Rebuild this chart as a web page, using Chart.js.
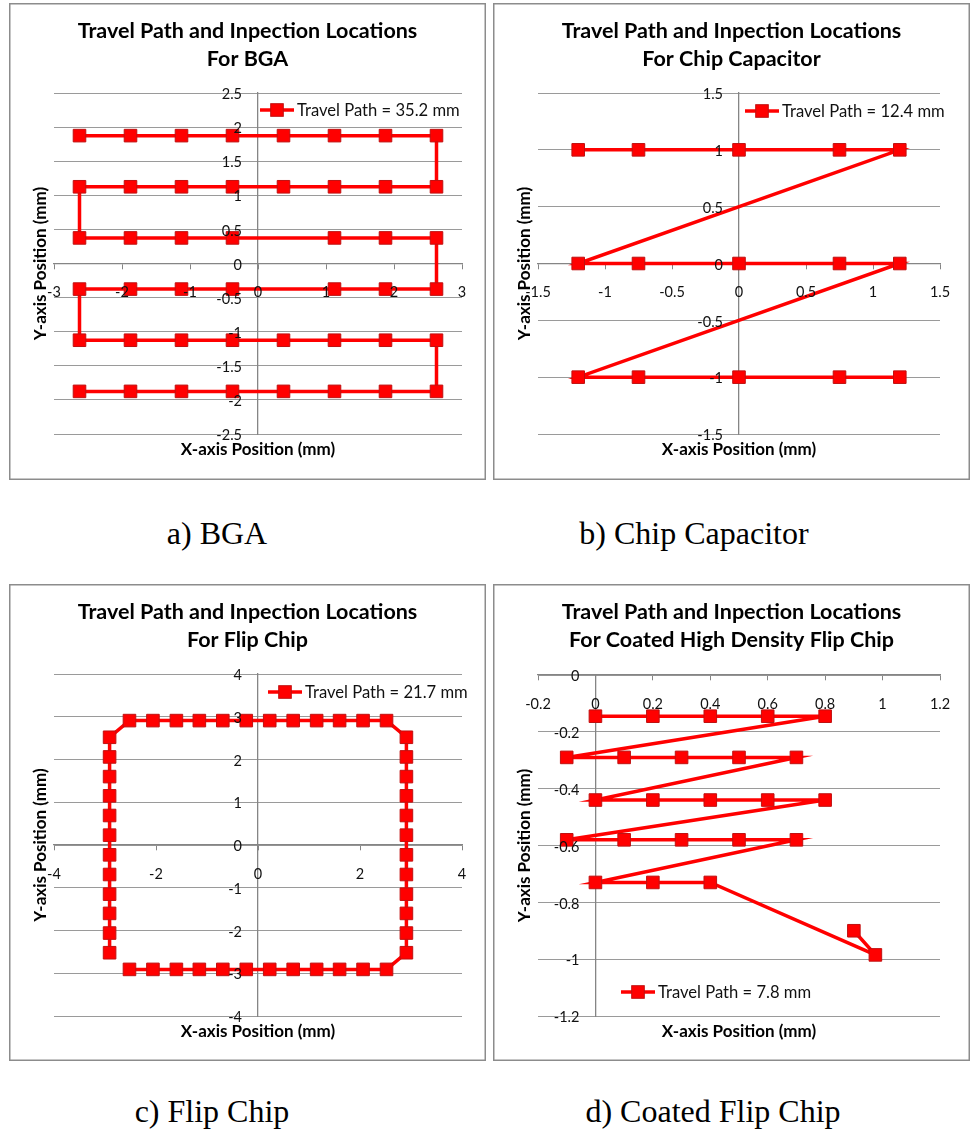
<!DOCTYPE html>
<html>
<head>
<meta charset="utf-8">
<script src="https://cdn.jsdelivr.net/npm/chart.js@4.4.1/dist/chart.umd.min.js"></script>
<style>
  html, body { margin: 0; padding: 0; background: #fff; }
  body { position: relative; width: 970px; height: 1134px; overflow: hidden; }
  canvas.panel { position: absolute; }
  .cap { position: absolute; width: 400px; text-align: center; font: 32px "Liberation Serif", "Times New Roman", serif; line-height: 32px; color: #000; white-space: nowrap; }
</style>
</head>
<body>
<canvas class="panel" id="bga" width="477" height="477" style="left:9px;top:3px"></canvas>
<canvas class="panel" id="cap" width="477" height="477" style="left:493px;top:3px"></canvas>
<canvas class="panel" id="flip" width="477" height="477" style="left:9px;top:584px"></canvas>
<canvas class="panel" id="hdflip" width="477" height="477" style="left:493px;top:584px"></canvas>
<div class="cap" style="left:17px;top:517px">a) BGA</div>
<div class="cap" style="left:494px;top:517px">b) Chip Capacitor</div>
<div class="cap" style="left:12px;top:1095px">c) Flip Chip</div>
<div class="cap" style="left:513px;top:1095px">d) Coated Flip Chip</div>
<script>
// ---------- BGA: serpentine over a 8 x 6 ball grid ----------
const bgaTitle = ['Travel Path and Inpection Locations', 'For BGA'];
const bgaLabel = 'Travel Path = 35.2 mm';
const bgaX = [
  -2.625, -1.875, -1.125, -0.375, 0.375, 1.125, 1.875, 2.625,
  2.625, 1.875, 1.125, 0.375, -0.375, -1.125, -1.875, -2.625,
  -2.625, -1.875, -1.125, -0.375, 1.125, 1.875, 2.625,
  2.625, 1.875, 1.125, -0.375, -1.125, -1.875, -2.625,
  -2.625, -1.875, -1.125, -0.375, 0.375, 1.125, 1.875, 2.625,
  2.625, 1.875, 1.125, 0.375, -0.375, -1.125, -1.875, -2.625
];
const bgaY = [
  1.875, 1.875, 1.875, 1.875, 1.875, 1.875, 1.875, 1.875,
  1.125, 1.125, 1.125, 1.125, 1.125, 1.125, 1.125, 1.125,
  0.375, 0.375, 0.375, 0.375, 0.375, 0.375, 0.375,
  -0.375, -0.375, -0.375, -0.375, -0.375, -0.375, -0.375,
  -1.125, -1.125, -1.125, -1.125, -1.125, -1.125, -1.125, -1.125,
  -1.875, -1.875, -1.875, -1.875, -1.875, -1.875, -1.875, -1.875
];
const bgaXTicks = [-3, -2, -1, 0, 1, 2, 3];
const bgaYTicks = [-2.5, -2, -1.5, -1, -0.5, 0, 0.5, 1, 1.5, 2, 2.5];

// ---------- Chip capacitor: three rows, diagonal returns ----------
const capTitle = ['Travel Path and Inpection Locations', 'For Chip Capacitor'];
const capLabel = 'Travel Path = 12.4 mm';
const capX = [-1.2, -0.75, 0, 0.75, 1.2, -1.2, -0.75, 0, 0.75, 1.2, -1.2, -0.75, 0, 0.75, 1.2];
const capY = [1, 1, 1, 1, 1, 0, 0, 0, 0, 0, -1, -1, -1, -1, -1];
const capXTicks = [-1.5, -1, -0.5, 0, 0.5, 1, 1.5];
const capYTicks = [-1.5, -1, -0.5, 0, 0.5, 1, 1.5];

// ---------- Flip chip: perimeter bumps ----------
const flipTitle = ['Travel Path and Inpection Locations', 'For Flip Chip'];
const flipLabel = 'Travel Path = 21.7 mm';
const flipX = [
  -2.52, -2.06, -1.6, -1.15, -0.69, -0.23, 0.23, 0.69, 1.15, 1.6, 2.06, 2.52,
  2.91, 2.91, 2.91, 2.91, 2.91, 2.91, 2.91, 2.91, 2.91, 2.91, 2.91, 2.91,
  2.52, 2.06, 1.6, 1.15, 0.69, 0.23, -0.23, -0.69, -1.15, -1.6, -2.06, -2.52,
  -2.91, -2.91, -2.91, -2.91, -2.91, -2.91, -2.91, -2.91, -2.91, -2.91, -2.91, -2.91
];
const flipY = [
  -2.91, -2.91, -2.91, -2.91, -2.91, -2.91, -2.91, -2.91, -2.91, -2.91, -2.91, -2.91,
  -2.52, -2.06, -1.6, -1.15, -0.69, -0.23, 0.23, 0.69, 1.15, 1.6, 2.06, 2.52,
  2.91, 2.91, 2.91, 2.91, 2.91, 2.91, 2.91, 2.91, 2.91, 2.91, 2.91, 2.91,
  2.52, 2.06, 1.6, 1.15, 0.69, 0.23, -0.23, -0.69, -1.15, -1.6, -2.06, -2.52
];
const flipXTicks = [-4, -2, 0, 2, 4];
const flipYTicks = [-4, -3, -2, -1, 0, 1, 2, 3, 4];

// ---------- Coated high density flip chip ----------
const hdTitle = ['Travel Path and Inpection Locations', 'For Coated High Density Flip Chip'];
const hdLabel = 'Travel Path = 7.8 mm';
const hdX = [
  0, 0.2, 0.4, 0.6, 0.8,
  -0.1, 0.1, 0.3, 0.5, 0.7,
  0, 0.2, 0.4, 0.6, 0.8,
  -0.1, 0.1, 0.3, 0.5, 0.7,
  0, 0.2, 0.4,
  0.975, 0.9
];
const hdY = [
  -0.145, -0.145, -0.145, -0.145, -0.145,
  -0.29, -0.29, -0.29, -0.29, -0.29,
  -0.44, -0.44, -0.44, -0.44, -0.44,
  -0.58, -0.58, -0.58, -0.58, -0.58,
  -0.73, -0.73, -0.73,
  -0.985, -0.9
];
const hdXTicks = [-0.2, 0, 0.2, 0.4, 0.6, 0.8, 1, 1.2];
const hdYTicks = [-1.2, -1, -0.8, -0.6, -0.4, -0.2, 0];

const X_TITLE = 'X-axis Position (mm)';
const Y_TITLE = 'Y-axis Position (mm)';

// ---------- styling ----------
const RED = '#ff0000';
const MARK_EDGE = '#c01010';
const GRID = '#9a9a9a';
const AXIS = '#858585';
const FRAME = '#8c8c8c';
const FONT = 'Lato, "Open Sans", sans-serif';
const TICK_FONT = '14.5px ' + FONT;
const MARK_R = 8.9;
const Y_LABEL_GAP = 16;

const fmt = v => String(+Number(v).toFixed(3));

// Value labels of the y axis, set just left of the x = 0 axis line and above the path
const yAxisLabels = {
  id: 'yAxisLabels',
  afterDatasetsDraw(chart) {
    const {ctx, scales: {x, y}} = chart;
    const x0 = x.getPixelForValue(0) - Y_LABEL_GAP;
    ctx.save();
    ctx.font = TICK_FONT;
    ctx.fillStyle = '#111';
    ctx.textAlign = 'right';
    ctx.textBaseline = 'middle';
    y.ticks.forEach(t => ctx.fillText(fmt(t.value), x0, y.getPixelForValue(t.value) + 1.5));
    ctx.restore();
  }
};

// Frame, two-line title, axis titles and the in-plot legend
const deco = {
  id: 'deco',
  beforeDraw(chart) {
    const {ctx, width, height} = chart;
    ctx.save();
    ctx.fillStyle = '#fff';
    ctx.fillRect(0, 0, width, height);
    ctx.restore();
  },
  afterDraw(chart, args, o) {
    const {ctx, chartArea: a, width, height} = chart;
    ctx.save();
    ctx.strokeStyle = FRAME;
    ctx.lineWidth = 1.5;
    ctx.strokeRect(0.75, 0.75, width - 1.5, height - 1.5);

    ctx.fillStyle = '#000';
    ctx.textAlign = 'center';
    ctx.textBaseline = 'middle';
    ctx.font = 'bold 21.5px ' + FONT;
    o.title.forEach((t, i) => ctx.fillText(t, width / 2, 28 + i * 28));

    ctx.font = 'bold 17px ' + FONT;
    ctx.fillText(X_TITLE, (a.left + a.right) / 2, a.bottom + 16);
    ctx.save();
    ctx.translate(a.left - 13, (a.top + a.bottom) / 2);
    ctx.rotate(-Math.PI / 2);
    ctx.fillText(Y_TITLE, 0, 0);
    ctx.restore();

    // legend entry
    const ds = chart.data.datasets[0];
    const lx = a.left + o.legend[0];
    const ly = a.top + o.legend[1];
    ctx.strokeStyle = RED;
    ctx.lineWidth = 3.5;
    ctx.beginPath();
    ctx.moveTo(lx, ly);
    ctx.lineTo(lx + 34, ly);
    ctx.stroke();
    ctx.fillStyle = RED;
    ctx.strokeStyle = MARK_EDGE;
    ctx.lineWidth = 1;
    const s = MARK_R * Math.SQRT1_2;
    ctx.fillRect(lx + 17 - s, ly - s, 2 * s, 2 * s);
    ctx.strokeRect(lx + 17 - s, ly - s, 2 * s, 2 * s);
    ctx.fillStyle = '#111';
    ctx.textAlign = 'left';
    ctx.font = '16.6px ' + FONT;
    ctx.fillText(ds.label, lx + 37, ly + 1);
    ctx.restore();
  }
};

function makeChart(id, c) {
  const pts = c.xs.map((x, i) => ({x: x, y: c.ys[i]}));
  return new Chart(document.getElementById(id), {
    type: 'scatter',
    data: {
      datasets: [{
        label: c.label,
        data: pts,
        showLine: true,
        tension: 0,
        borderColor: RED,
        borderWidth: 3.5,
        pointStyle: 'rect',
        pointRadius: MARK_R,
        pointHoverRadius: MARK_R,
        pointBackgroundColor: RED,
        pointBorderColor: MARK_EDGE,
        pointBorderWidth: 1,
        clip: false
      }]
    },
    options: {
      responsive: false,
      animation: false,
      devicePixelRatio: 1,
      events: [],
      layout: {padding: c.pad},
      plugins: {
        legend: {display: false},
        tooltip: {enabled: false},
        title: {display: false},
        deco: {title: c.title, legend: c.legend}
      },
      scales: {
        x: {
          type: 'linear',
          min: c.xTicks[0],
          max: c.xTicks[c.xTicks.length - 1],
          position: {y: c.xAt},
          afterBuildTicks: s => { s.ticks = c.xTicks.map(v => ({value: v})); },
          ticks: {callback: fmt, autoSkip: false, maxRotation: 0, color: '#111', font: {family: FONT, size: 14.5}, padding: 15.5, z: 1},
          grid: {drawOnChartArea: false, drawTicks: true, tickLength: 5, color: AXIS, lineWidth: 1},
          border: {display: true, color: AXIS, width: 1.3}
        },
        y: {
          type: 'linear',
          min: c.yTicks[0],
          max: c.yTicks[c.yTicks.length - 1],
          position: {x: c.yAt},
          afterBuildTicks: s => { s.ticks = c.yTicks.map(v => ({value: v})); },
          ticks: {display: false, autoSkip: false},
          grid: {drawOnChartArea: true, drawTicks: false, color: GRID, lineWidth: 1},
          border: {display: true, color: AXIS, width: 1.3}
        }
      }
    },
    plugins: [yAxisLabels, deco]
  });
}

makeChart('bga', {
  title: bgaTitle, label: bgaLabel, xs: bgaX, ys: bgaY,
  xTicks: bgaXTicks, yTicks: bgaYTicks, xAt: 0, yAt: 0,
  pad: {left: 45, right: 24, top: 90, bottom: 46},
  legend: [206, 17]
});
makeChart('cap', {
  title: capTitle, label: capLabel, xs: capX, ys: capY,
  xTicks: capXTicks, yTicks: capYTicks, xAt: 0, yAt: 0,
  pad: {left: 45, right: 30, top: 90, bottom: 46},
  legend: [207, 18]
});
makeChart('flip', {
  title: flipTitle, label: flipLabel, xs: flipX, ys: flipY,
  xTicks: flipXTicks, yTicks: flipYTicks, xAt: 0, yAt: 0,
  pad: {left: 45, right: 24, top: 90, bottom: 45},
  legend: [214, 18]
});
makeChart('hdflip', {
  title: hdTitle, label: hdLabel, xs: hdX, ys: hdY,
  xTicks: hdXTicks, yTicks: hdYTicks, xAt: 0, yAt: 0,
  pad: {left: 45, right: 30, top: 91, bottom: 45},
  legend: [83, 317]
});
</script>
</body>
</html>
